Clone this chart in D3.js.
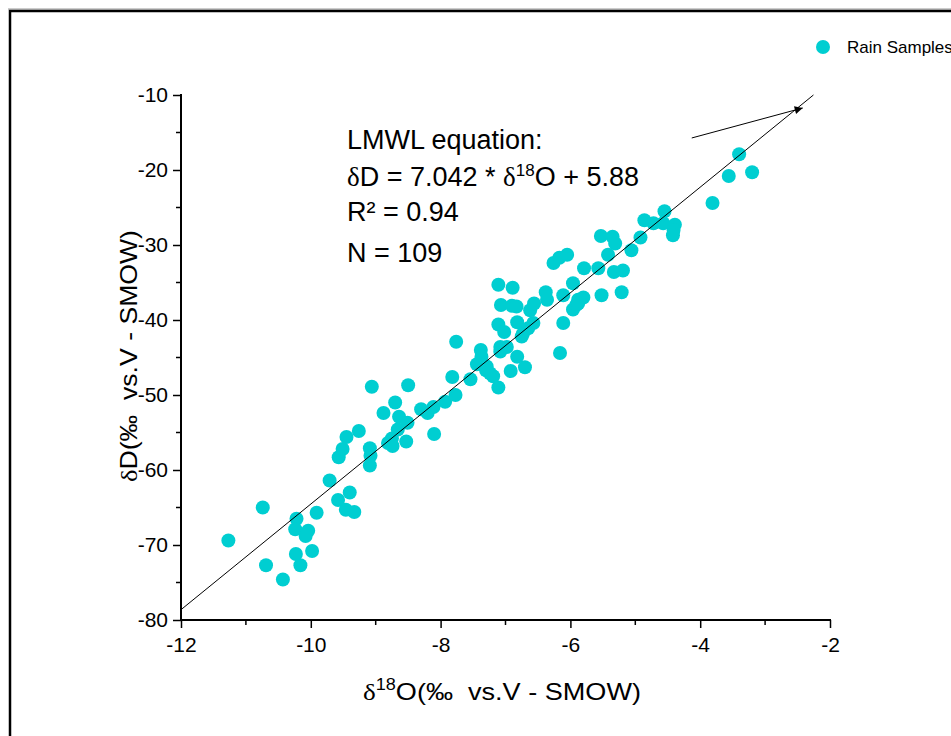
<!DOCTYPE html>
<html>
<head>
<meta charset="utf-8">
<script src="https://cdn.jsdelivr.net/npm/d3@7"></script>
<style>
  body { margin: 0; background: #fff; overflow: hidden; }
  text { font-family: Arial, "Liberation Sans", sans-serif; fill: #000; }
  .dl { font-family: "Liberation Serif", "DejaVu Serif", serif; }
</style>
</head>
<body>
<svg width="951" height="736"></svg>
<script>
// rain sample isotopes
var d18O = [-11.27, -10.74, -10.69, -10.43, -10.22, -10.24, -10.04, -10.08, -10.23, -10.16,
  -9.98, -9.91, -9.71, -9.58, -9.40, -9.46, -9.33, -9.57, -9.51, -9.45,
  -9.26, -9.06, -9.09, -9.08, -9.09, -8.88, -8.70, -8.64, -8.51, -8.66,
  -8.75, -8.81, -8.74, -8.53, -8.50, -8.30, -8.20, -8.11, -8.10, -7.93,
  -7.82, -7.77, -7.76, -7.54, -7.11, -7.38, -7.37, -7.44, -7.29, -7.24,
  -7.19, -7.08, -7.08, -6.98, -6.92, -6.82, -6.70, -7.11, -7.02, -6.82,
  -6.73, -6.65, -6.57, -6.62, -6.56, -7.07, -6.90, -6.83, -7.11, -6.89,
  -6.38, -6.36, -6.11, -5.96, -6.11, -6.16, -5.88, -5.80, -5.96, -5.91,
  -5.79, -5.57, -5.52, -5.21, -6.26, -6.17, -6.05, -5.42, -5.33, -5.19,
  -5.53, -5.35, -5.31, -5.06, -4.92, -4.86, -4.72, -4.57, -4.55, -4.39,
  -4.41, -4.42, -3.81, -3.56, -3.20, -3.40, -6.75, -7.30, -5.88];
var dD = [-69.4, -65.0, -72.7, -74.6, -66.5, -67.9, -68.1, -68.8, -71.2, -72.7,
  -70.8, -65.7, -61.4, -64.0, -63.0, -65.3, -65.6, -58.3, -57.2, -55.6,
  -54.8, -48.9, -57.1, -58.1, -59.4, -52.4, -51.0, -52.9, -53.7, -54.6,
  -55.8, -56.4, -56.8, -56.2, -48.7, -51.9, -52.4, -51.6, -55.2, -50.9,
  -47.6, -50.0, -42.9, -47.9, -49.0, -44.0, -44.9, -45.9, -46.2, -47.1,
  -47.5, -43.6, -44.2, -43.6, -46.8, -44.9, -46.3, -40.6, -41.6, -40.3,
  -41.8, -41.1, -40.4, -38.7, -37.8, -38.0, -38.1, -38.2, -35.3, -35.7,
  -36.3, -37.3, -36.7, -35.1, -40.4, -44.4, -37.3, -37.0, -38.6, -38.0,
  -33.1, -33.1, -36.7, -36.3, -32.4, -31.7, -31.3, -31.3, -33.6, -33.4,
  -28.8, -28.9, -29.8, -30.7, -29.0, -26.7, -27.1, -27.1, -25.5, -27.3,
  -28.0, -28.7, -24.4, -20.8, -20.3, -17.9, -42.2, -46.7, -37.8];

var xTicks = [-12, -10, -8, -6, -4, -2];
var yTicks = [-80, -70, -60, -50, -40, -30, -20, -10];
var slope = 7.042, intercept = 5.88;
var lineX = [-12, -2.255];
// arrow annotation, start and end in data units
var arrowX = [-4.13, -2.42];
var arrowY = [-15.73, -11.73];
var eqLines = ["LMWL equation:", "EQ", "R\u00b2 = 0.94", "N = 109"];

var svg = d3.select("svg");
var x = d3.scaleLinear().domain([-12, -2]).range([181, 830]);
var y = d3.scaleLinear().domain([-80, -10]).range([620, 95]);

// outer frame
svg.append("line").attr("x1", 8).attr("x2", 951).attr("y1", 9).attr("y2", 9)
  .attr("stroke", "#999").attr("stroke-width", 1);
svg.append("rect").attr("x", 10).attr("y", 11).attr("width", 1000).attr("height", 800)
  .attr("fill", "none").attr("stroke", "#000").attr("stroke-width", 2.5);

// axes
var fmt = function(d) { return String(d); };
var xAxis = svg.append("g").attr("transform", "translate(0,620)")
  .call(d3.axisBottom(x).tickValues(xTicks).tickSize(8).tickPadding(9).tickFormat(fmt));
xAxis.append("g").selectAll("line").data(d3.range(-11, -2, 2)).enter().append("line")
  .attr("x1", function(d) { return x(d); }).attr("x2", function(d) { return x(d); })
  .attr("y1", 0).attr("y2", 5).attr("stroke", "#000").attr("stroke-width", 1.5);

var yAxis = svg.append("g").attr("transform", "translate(181,0)")
  .call(d3.axisLeft(y).tickValues(yTicks).tickSize(8).tickPadding(5).tickFormat(fmt));
yAxis.append("g").selectAll("line").data(d3.range(-75, -10, 10)).enter().append("line")
  .attr("y1", function(d) { return y(d); }).attr("y2", function(d) { return y(d); })
  .attr("x1", 0).attr("x2", -5).attr("stroke", "#000").attr("stroke-width", 1.5);

xAxis.select(".domain").remove();
yAxis.select(".domain").remove();
svg.append("line").attr("x1", 180).attr("x2", 831).attr("y1", 620).attr("y2", 620)
  .attr("stroke", "#000").attr("stroke-width", 2);
svg.append("line").attr("x1", 181).attr("x2", 181).attr("y1", 94).attr("y2", 621)
  .attr("stroke", "#000").attr("stroke-width", 2);
svg.selectAll(".tick line").attr("stroke-width", 1.5);
xAxis.attr("font-size", 21).attr("font-family", "Arial, 'Liberation Sans', sans-serif");
yAxis.attr("font-size", 21).attr("font-family", "Arial, 'Liberation Sans', sans-serif");
svg.selectAll(".tick text").attr("font-size", 21);

// points
var pts = d3.zip(d18O, dD);
svg.append("g").selectAll("circle").data(pts).enter().append("circle")
  .attr("cx", function(d) { return x(d[0]); })
  .attr("cy", function(d) { return y(d[1]); })
  .attr("r", 7).attr("fill", "#00CED1");

// regression line
svg.append("line")
  .attr("x1", x(lineX[0])).attr("y1", y(slope * lineX[0] + intercept))
  .attr("x2", x(lineX[1])).attr("y2", y(slope * lineX[1] + intercept))
  .attr("stroke", "#000").attr("stroke-width", 1);

// arrow
svg.append("defs").append("marker").attr("id", "ah")
  .attr("viewBox", "0 0 10 10").attr("refX", 10).attr("refY", 5)
  .attr("markerWidth", 14).attr("markerHeight", 8).attr("markerUnits", "userSpaceOnUse")
  .attr("orient", "auto")
  .append("path").attr("d", "M0,0L10,5L0,10z").attr("fill", "#000");
svg.append("line")
  .attr("x1", x(arrowX[0])).attr("y1", y(arrowY[0]))
  .attr("x2", x(arrowX[1])).attr("y2", y(arrowY[1]))
  .attr("stroke", "#000").attr("stroke-width", 1).attr("marker-end", "url(#ah)");

// equation text
var eqY = [149, 186, 221, 262];
eqLines.forEach(function(s, i) {
  var t = svg.append("text").attr("x", 347).attr("y", eqY[i]).style("font-size", "27px");
  if (s == "EQ") {
    t.append("tspan").attr("class", "dl").text("\u03b4");
    t.append("tspan").text("D = 7.042 * ");
    t.append("tspan").attr("class", "dl").text("\u03b4");
    t.append("tspan").attr("dy", -10).style("font-size", "17px").text("18");
    t.append("tspan").attr("dy", 10).text("O + 5.88");
  } else {
    t.text(s);
  }
});

// axis titles
var xt = svg.append("text").attr("x", 363).attr("y", 700)
  .attr("textLength", 278).attr("lengthAdjust", "spacingAndGlyphs")
  .style("font-size", "24px");
xt.append("tspan").attr("class", "dl").text("\u03b4");
xt.append("tspan").attr("dy", -10).style("font-size", "16px").text("18");
xt.append("tspan").attr("dy", 10).text("O(\u2030\u00a0\u00a0vs.V - SMOW)");

var yt = svg.append("text").attr("transform", "translate(137,482) rotate(-90)")
  .attr("textLength", 252).attr("lengthAdjust", "spacingAndGlyphs")
  .style("font-size", "24px");
yt.append("tspan").attr("class", "dl").text("\u03b4");
yt.append("tspan").text("D(\u2030\u00a0\u00a0vs.V - SMOW)");

// legend (runs off the right edge, as in the source figure)
svg.append("circle").attr("cx", 823).attr("cy", 47).attr("r", 7).attr("fill", "#00CED1");
svg.append("text").attr("x", 847).attr("y", 53).style("font-size", "17px").text("Rain Samples");
</script>
</body>
</html>
